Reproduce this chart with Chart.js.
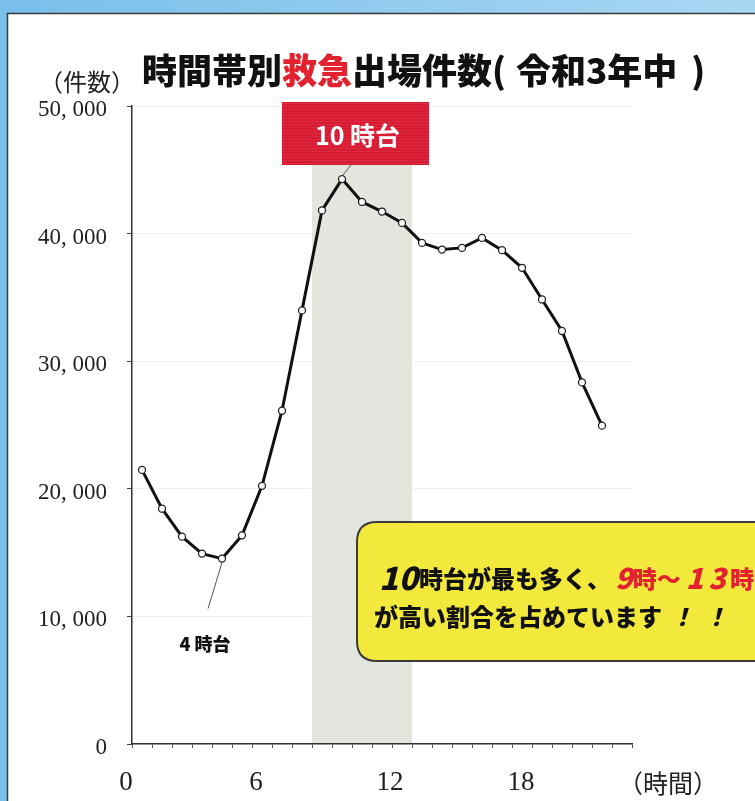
<!DOCTYPE html>
<html><head><meta charset="utf-8">
<script src="https://cdn.jsdelivr.net/npm/chart.js@4.4.1/dist/chart.umd.min.js"></script>
<style>html,body{margin:0;padding:0;background:#fff;}canvas{display:block;}</style>
</head><body>
<canvas id="c" width="755" height="801"></canvas>
<script>
// ---- data ----
const hours = [0,1,2,3,4,5,6,7,8,9,10,11,12,13,14,15,16,17,18,19,20,21,22,23];
const counts = [21480,18440,16250,14920,14530,16350,20230,26120,33980,41820,44270,42480,
                41730,40840,39270,38750,38880,39660,38700,37320,34840,32370,28340,24950];
const yTickValues = [0,10000,20000,30000,40000,50000];
const xTickLabels = ['0','6','12','18'];
const xTickAt = [-0.8,5.7,12.4,18.95];
const xUnitLabel = '（時間）';
const yUnitLabel = '（件数）';
const highlightFrom = 9, highlightTo = 13;
const peakHour = 10, lowHour = 4;
const peakLabel = '10 時台', lowLabel = '4 時台';

const JP = '"Noto Sans CJK JP","Noto Sans CJK SC",sans-serif';
const SERIF = '"Liberation Serif","DejaVu Serif",serif';

function drawSegs(ctx, x, y, segs){
  ctx.textAlign='left'; ctx.textBaseline='middle';
  for(const s of segs){
    if(s.gap){x+=s.gap;continue;}
    ctx.font=s.font; ctx.fillStyle=s.color;
    ctx.fillText(s.text,x,y+(s.dy||0));
    x+=ctx.measureText(s.text).width;
  }
  return x;
}
function rrect(ctx,x,y,w,h,r){
  ctx.beginPath();
  ctx.moveTo(x+r,y);ctx.lineTo(x+w-r,y);ctx.quadraticCurveTo(x+w,y,x+w,y+r);
  ctx.lineTo(x+w,y+h-r);ctx.quadraticCurveTo(x+w,y+h,x+w-r,y+h);
  ctx.lineTo(x+r,y+h);ctx.quadraticCurveTo(x,y+h,x,y+h-r);
  ctx.lineTo(x,y+r);ctx.quadraticCurveTo(x,y,x+r,y);ctx.closePath();
}

const frame = {
  id:'frame',
  beforeDraw(chart){
    const ctx=chart.ctx, W=chart.width, H=chart.height;
    ctx.save();
    const g=ctx.createLinearGradient(0,0,W,0);
    g.addColorStop(0,'#79bfea');g.addColorStop(1,'#a9d7f3');
    ctx.fillStyle=g;ctx.fillRect(0,0,W,H);
    ctx.fillStyle='#ffffff';ctx.fillRect(7,13,W,H);
    ctx.strokeStyle='#3a3a3a';ctx.lineWidth=1.5;
    ctx.beginPath();ctx.moveTo(7.5,H);ctx.lineTo(7.5,13.5);ctx.lineTo(W,13.5);ctx.stroke();
    ctx.restore();
  },
  beforeDatasetsDraw(chart){
    const ctx=chart.ctx, xs=chart.scales.x, ys=chart.scales.y;
    const x0=xs.getPixelForValue(highlightFrom-0.5), x1=xs.getPixelForValue(highlightTo+0.5);
    const y0=ys.getPixelForValue(50000), y1=ys.getPixelForValue(0);
    ctx.save();ctx.fillStyle='#e2e6df';ctx.fillRect(x0,y0,x1-x0,y1-y0-1);ctx.restore();
  },
  afterDatasetsDraw(chart){
    const ctx=chart.ctx, xs=chart.scales.x, ys=chart.scales.y;
    ctx.save();
    // title
    const TF='900 35px '+JP;
    drawSegs(ctx,142,71,[
      {text:'時間帯別',color:'#111',font:TF},
      {text:'救急',color:'#e3222f',font:TF},
      {text:'出場件数(',color:'#111',font:TF},
      {gap:10},
      {text:'令和3年中',color:'#111',font:TF},
      {gap:14},
      {text:')',color:'#111',font:TF}
    ]);
    // unit labels
    ctx.font='24px '+JP;ctx.fillStyle='#222';ctx.textAlign='center';ctx.textBaseline='middle';
    ctx.fillText(yUnitLabel,87,82);
    ctx.font='25px '+JP;
    ctx.fillText(xUnitLabel,xs.getPixelForValue(26.3),783);
    // x labels
    ctx.font='27px '+SERIF;ctx.fillStyle='#222';
    xTickLabels.forEach((t,i)=>ctx.fillText(t,xs.getPixelForValue(xTickAt[i]),783));

    // peak label box
    const px=xs.getPixelForValue(peakHour), py=ys.getPixelForValue(counts[hours.indexOf(peakHour)]);
    const bx=px-60, by=ys.getPixelForValue(50000)-4, bw=147, bh=63;
    ctx.strokeStyle='#555';ctx.lineWidth=1;
    ctx.beginPath();ctx.moveTo(px+9,by+bh);ctx.lineTo(px+1,py-4);ctx.stroke();
    ctx.fillStyle='#d81b32';ctx.fillRect(bx,by,bw,bh);
    ctx.fillStyle='rgba(255,255,255,0.07)';
    for(let yy=by+1;yy<by+bh;yy+=3)ctx.fillRect(bx,yy,bw,1);
    ctx.fillStyle='#fff';ctx.font='bold 25px '+JP;ctx.textAlign='center';ctx.textBaseline='middle';
    ctx.fillText(peakLabel,bx+bw/2+2,by+bh/2+2);

    // low label
    const lx=xs.getPixelForValue(lowHour), ly=ys.getPixelForValue(counts[hours.indexOf(lowHour)]);
    ctx.strokeStyle='#555';ctx.lineWidth=1;
    ctx.beginPath();ctx.moveTo(lx,ly+4);ctx.lineTo(lx-14,ly+50);ctx.stroke();
    ctx.fillStyle='#111';ctx.font='900 18px '+JP;
    ctx.fillText(lowLabel,lx-17,ly+86);

    // callout
    rrect(ctx,357,522,470,139,20);
    ctx.fillStyle='#f2e93c';ctx.fill();
    ctx.strokeStyle='#3a3a3a';ctx.lineWidth=2;ctx.stroke();
    const B='900 24px '+JP, BI='italic 900 32px '+JP, RI='italic 900 29px '+JP;
    drawSegs(ctx,379,579,[
      {text:'10',color:'#111',font:BI,dy:-1},
      {gap:1},
      {text:'時台が最も多く、',color:'#111',font:B},
      {gap:4},
      {text:'9',color:'#e3222f',font:RI,dy:-1},
      {text:'時～',color:'#e3222f',font:B},
      {gap:5},
      {text:'1',color:'#e3222f',font:RI,dy:-1},
      {gap:5},
      {text:'3',color:'#e3222f',font:RI,dy:-1},
      {gap:4},
      {text:'時',color:'#e3222f',font:B}
    ]);
    drawSegs(ctx,374,617,[
      {text:'が高い割合を占めています',color:'#111',font:B},
      {gap:8},
      {text:'！',color:'#111',font:'italic 900 24px '+JP},
      {gap:10},
      {text:'！',color:'#111',font:'italic 900 24px '+JP}
    ]);
    ctx.restore();
  }
};

new Chart(document.getElementById('c'),{
  type:'line',
  data:{datasets:[{
    data:hours.map((h,i)=>({x:h,y:counts[i]})),
    borderColor:'#111',borderWidth:3,tension:0,
    pointRadius:3.5,pointBackgroundColor:'#fff',pointBorderColor:'#222',pointBorderWidth:1.3,
    fill:false
  }]},
  options:{
    responsive:false,animation:false,
    layout:{padding:{left:0,right:123,top:106,bottom:0}},
    plugins:{legend:{display:false},tooltip:{enabled:false}},
    scales:{
      x:{type:'linear',min:-0.5,max:24.5,
        afterBuildTicks(s){s.ticks=Array.from({length:26},(_,i)=>({value:i-0.5}));},
        afterFit(s){s.height=57;},
        ticks:{display:false},
        grid:{drawOnChartArea:false,tickLength:4,tickColor:'#555'},
        border:{color:'#333',width:1.5}
      },
      y:{min:0,max:50000,
        afterBuildTicks(s){s.ticks=yTickValues.map(v=>({value:v}));},
        afterFit(s){s.width=132;},
        ticks:{padding:20,labelOffset:4,color:'#222',font:{family:'Liberation Serif',size:23},
          callback:v=>v.toLocaleString('en-US').replace(',',', ')},
        grid:{color:'rgba(0,0,0,0.06)',tickLength:5,tickColor:'#444'},
        border:{color:'#333',width:1.5}
      }
    }
  },
  plugins:[frame]
});
</script>
</body></html>
